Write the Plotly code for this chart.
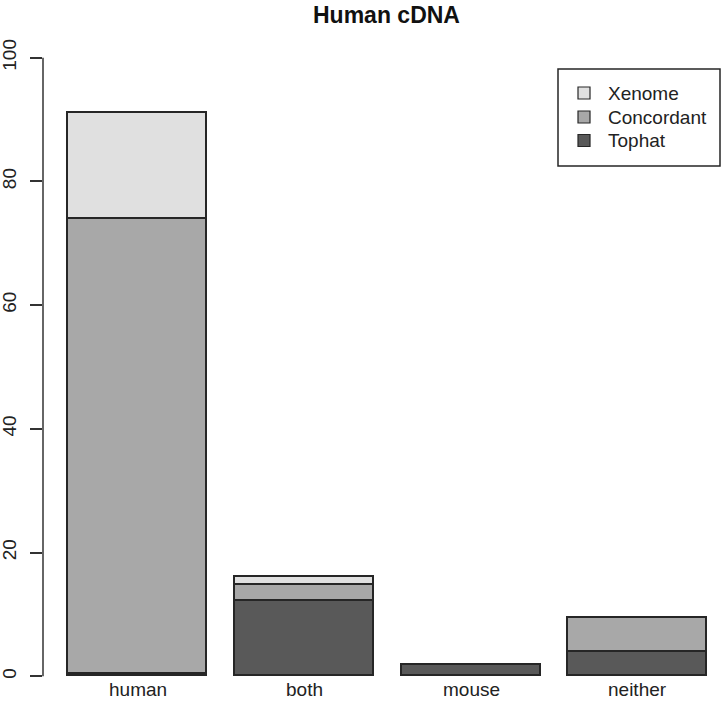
import plotly.graph_objects as go

categories = ["human", "both", "mouse", "neither"]
series_names = ["Tophat", "Concordant", "Xenome"]
tophat = [0.4, 12.2, 1.9, 4.0]
concordant = [73.6, 2.6, 0.0, 5.5]
xenome = [17.0, 1.2, 0.0, 0.0]
y_ticks = [0, 20, 40, 60, 80, 100]
colors = {"Tophat": "#595959", "Concordant": "#a8a8a8", "Xenome": "#e0e0e0"}
values = {"Tophat": tophat, "Concordant": concordant, "Xenome": xenome}

W, H = 722, 719
# plot area in screen pixels
SL, SR, ST, SB = 43, 722, 33, 701
ML, MR, MT, MB = SL, W - SR, ST, H - SB
YR = [-4, 104]
XR = [0.0201, 4.905]
FONT = "Liberation Sans, Arial, Helvetica, sans-serif"
EDGE = "#262626"

pw = SR - SL
ph = SB - ST


def pxp(sx):
    return (sx - SL) / pw


def pyp(sy):
    return (SB - sy) / ph


xpos = [0.7 + 1.2 * i for i in range(len(categories))]

fig = go.Figure()
for name in series_names:
    fig.add_trace(go.Bar(
        x=xpos, y=values[name], width=1.0, name=name,
        marker=dict(color=colors[name], line=dict(color=EDGE, width=1.6)),
        showlegend=False,
    ))

# category labels
for xp, cat in zip(xpos, categories):
    fig.add_annotation(x=xp, y=pyp(689), xref="x", yref="paper", text=cat,
                       showarrow=False, font=dict(family=FONT, size=19, color="#222"),
                       xanchor="center", yanchor="middle")

# y axis line from 0 to 100
fig.add_shape(type="line", xref="paper", yref="y", x0=0, x1=0, y0=0, y1=100,
              line=dict(color="#333", width=1.5))

# legend box
fig.add_shape(type="rect", xref="paper", yref="paper", x0=pxp(558), x1=pxp(720),
              y0=pyp(166), y1=pyp(69), line=dict(color=EDGE, width=1.5),
              fillcolor="white")
leg_order = ["Xenome", "Concordant", "Tophat"]
leg_y = [93, 117, 140.5]
for name, ly in zip(leg_order, leg_y):
    fig.add_shape(type="rect", xref="paper", yref="paper", x0=pxp(578), x1=pxp(590),
                  y0=pyp(ly + 6), y1=pyp(ly - 6), line=dict(color=EDGE, width=1.2),
                  fillcolor=colors[name])
    fig.add_annotation(x=pxp(606), y=pyp(ly), xref="paper", yref="paper", text=name,
                       showarrow=False, font=dict(family=FONT, size=19, color="#222"),
                       xanchor="left", yanchor="middle")

# title
fig.add_annotation(x=pxp(386), y=pyp(1), xref="paper", yref="paper",
                   text="<b>Human cDNA</b>", borderpad=0,
                   showarrow=False, font=dict(family=FONT, size=23, color="#111"),
                   xanchor="center", yanchor="top")

fig.update_layout(
    width=W, height=H, barmode="stack", bargap=0,
    margin=dict(l=ML, r=MR, t=MT, b=MB, pad=0, autoexpand=False),
    plot_bgcolor="white", paper_bgcolor="white",
    xaxis=dict(range=XR, showgrid=False, zeroline=False, showline=False,
               showticklabels=False, ticks="", automargin=False),
    yaxis=dict(range=YR, showgrid=False, zeroline=False, showline=False,
               automargin=False,
               tickvals=y_ticks, ticktext=[str(v) for v in y_ticks],
               ticks="outside", ticklen=12, tickwidth=1.5, tickcolor="#333",
               tickangle=-90, ticklabelstandoff=6,
               tickfont=dict(family=FONT, size=19, color="#222")),
    showlegend=False,
)

fig.write_html("out.html", config={"displayModeBar": False},
               post_script="document.body.style.margin='0';document.body.style.overflow='hidden';")
